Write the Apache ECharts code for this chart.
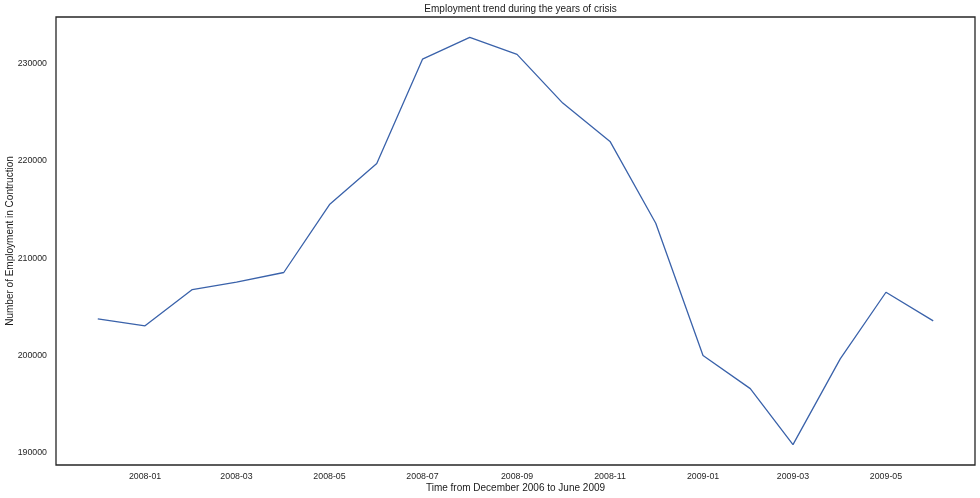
<!DOCTYPE html>
<html>
<head>
<meta charset="utf-8">
<script src="https://cdn.jsdelivr.net/npm/echarts@6/dist/echarts.min.js"></script>
<style>
html,body{margin:0;padding:0;background:#fff;}
#chart{width:980px;height:498px;}
</style>
</head>
<body>
<div id="chart"></div>
<script>
const months = ["2007-12","2008-01","2008-02","2008-03","2008-04","2008-05","2008-06","2008-07","2008-08","2008-09","2008-10","2008-11","2008-12","2009-01","2009-02","2009-03","2009-04","2009-05","2009-06"];
const employment = [203780,203060,206790,207560,208540,215530,219750,230480,232720,230970,225960,222020,213610,200000,196600,190840,199660,206510,203570];
const xTickLabels = ["2008-01","2008-03","2008-05","2008-07","2008-09","2008-11","2009-01","2009-03","2009-05"];
const yTickLabels = [190000,200000,210000,220000,230000];

function ts(s){ const p = s.split('-'); return Date.UTC(+p[0], +p[1]-1, 1); }
const data = months.map((m,i)=>[ts(m), employment[i]]);
const xs = data.map(d=>d[0]);
const xMinD = Math.min(...xs), xMaxD = Math.max(...xs);
const xPad = (xMaxD - xMinD) * 0.05;
const yMinD = Math.min(...employment), yMaxD = Math.max(...employment);
const yPad = (yMaxD - yMinD) * 0.05;

const font = '"Liberation Sans", Arial, sans-serif';
const chart = echarts.init(document.getElementById('chart'), null, {renderer:'canvas'});
chart.setOption({
  animation:false,
  backgroundColor:'#ffffff',
  title:{
    text:'Employment trend during the years of crisis',
    left:515.5, top:-1, textAlign:'center',
    textStyle:{fontFamily:font, fontSize:10, fontWeight:'normal', color:'#1a1a1a'}
  },
  grid:{left:56, right:5, top:17, bottom:33, show:true, borderColor:'#262626', borderWidth:1.3, backgroundColor:'#ffffff', containLabel:false, outerBoundsMode:'none'},
  xAxis:{
    type:'value',
    min:xMinD - xPad, max:xMaxD + xPad,
    name:'Time from December 2006 to June 2009',
    nameLocation:'middle', nameGap:18, nameMoveOverlap:false,
    nameTextStyle:{fontFamily:font, fontSize:10, color:'#1a1a1a'},
    axisLine:{show:false}, axisTick:{show:false}, splitLine:{show:false},
    axisLabel:{
      customValues: xTickLabels.map(ts),
      formatter:function(v){ const d=new Date(v); return d.getUTCFullYear()+'-'+String(d.getUTCMonth()+1).padStart(2,'0'); },
      fontFamily:font, fontSize:8.8, color:'#262626', margin:7
    }
  },
  yAxis:{
    type:'value',
    min:yMinD - yPad, max:yMaxD + yPad,
    name:'Number of Employment in Contruction',
    nameLocation:'middle', nameGap:41, nameMoveOverlap:false,
    nameTextStyle:{fontFamily:font, fontSize:10, color:'#1a1a1a'},
    axisLine:{show:false}, axisTick:{show:false}, splitLine:{show:false},
    axisLabel:{
      customValues: yTickLabels,
      formatter:function(v){ return String(Math.round(v)); },
      fontFamily:font, fontSize:8.8, color:'#262626', margin:9
    }
  },
  series:[{
    type:'line',
    data:data,
    showSymbol:false,
    lineStyle:{color:'#3a62aa', width:1.3},
    itemStyle:{color:'#3a62aa'}
  }]
});
</script>
</body>
</html>
